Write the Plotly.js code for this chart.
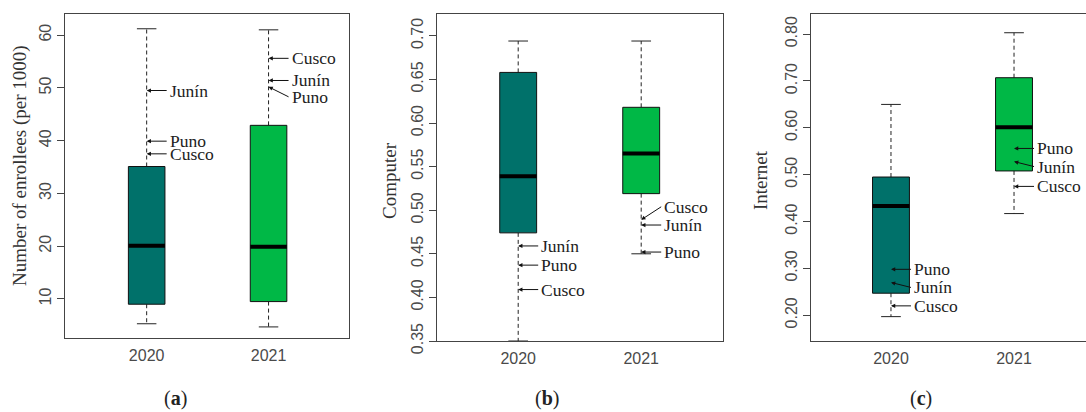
<!DOCTYPE html>
<html>
<head>
<meta charset="utf-8">
<script src="https://cdn.plot.ly/plotly-3.0.1.min.js"></script>
<style>html,body{margin:0;padding:0;background:#fff}#chart{width:1086px;height:412px}</style>
</head>
<body>
<div id="chart"></div>
<script>
// ---------- data ----------
const years = ['2020', '2021'];
const yearPos = [1, 2];

// (a) Number of enrollees (per 1000)
const enrolLower  = [5.3, 4.7];
const enrolQ1     = [9.0, 9.5];
const enrolMedian = [20.1, 19.9];
const enrolQ3     = [35.1, 42.9];
const enrolUpper  = [61.2, 61.0];
const enrolRegions2020 = ['Junín', 'Puno', 'Cusco'];
const enrolValues2020  = [49.5, 39.9, 37.5];
const enrolRegions2021 = ['Cusco', 'Junín', 'Puno'];
const enrolValues2021  = [55.6, 51.4, 50.2];

// (b) Computer
const compLower  = [0.350, 0.450];
const compQ1     = [0.474, 0.519];
const compMedian = [0.539, 0.565];
const compQ3     = [0.658, 0.618];
const compUpper  = [0.694, 0.694];
const compRegions2020 = ['Junín', 'Puno', 'Cusco'];
const compValues2020  = [0.459, 0.437, 0.409];
const compRegions2021 = ['Cusco', 'Junín', 'Puno'];
const compValues2021  = [0.489, 0.483, 0.452];

// (c) Internet
const netLower  = [0.197, 0.417];
const netQ1     = [0.247, 0.508];
const netMedian = [0.433, 0.601];
const netQ3     = [0.495, 0.707];
const netUpper  = [0.650, 0.803];
const netRegions2020 = ['Puno', 'Junín', 'Cusco'];
const netValues2020  = [0.298, 0.270, 0.220];
const netRegions2021 = ['Puno', 'Junín', 'Cusco'];
const netValues2021  = [0.556, 0.528, 0.475];

const yTicksA = [10, 20, 30, 40, 50, 60];
const yTicksB = [0.35, 0.40, 0.45, 0.50, 0.55, 0.60, 0.65, 0.70];
const yTicksC = [0.20, 0.30, 0.40, 0.50, 0.60, 0.70, 0.80];

// ---------- styles ----------
const colors = ['#00716a', '#00b846'];
const BOXW = 0.30, CAPW = 0.08;
const W = 1086, H = 412;
const px = v => v / W;
const py = v => 1 - v / H;

const traces = [];
function addBoxes(xa, ya, lo, q1, med, q3, up) {
  for (let i = 0; i < yearPos.length; i++) {
    const c = yearPos[i];
    traces.push({x: [c, c, null, c, c], y: [q3[i], up[i], null, q1[i], lo[i]],
      xaxis: xa, yaxis: ya, mode: 'lines', line: {color: '#222', width: 1, dash: '4px,3px'},
      hoverinfo: 'skip', showlegend: false});
    traces.push({x: [c - CAPW, c + CAPW, null, c - CAPW, c + CAPW], y: [up[i], up[i], null, lo[i], lo[i]],
      xaxis: xa, yaxis: ya, mode: 'lines', line: {color: '#222', width: 1},
      hoverinfo: 'skip', showlegend: false});
    traces.push({x: [c - BOXW / 2, c + BOXW / 2, c + BOXW / 2, c - BOXW / 2, c - BOXW / 2],
      y: [q1[i], q1[i], q3[i], q3[i], q1[i]], xaxis: xa, yaxis: ya, mode: 'lines',
      fill: 'toself', fillcolor: colors[i], line: {color: '#111', width: 1},
      hoverinfo: 'skip', showlegend: false});
    traces.push({x: [c - BOXW / 2, c + BOXW / 2], y: [med[i], med[i]],
      xaxis: xa, yaxis: ya, mode: 'lines', line: {color: '#000', width: 4},
      hoverinfo: 'skip', showlegend: false});
  }
}
addBoxes('x', 'y', enrolLower, enrolQ1, enrolMedian, enrolQ3, enrolUpper);
addBoxes('x2', 'y2', compLower, compQ1, compMedian, compQ3, compUpper);
addBoxes('x3', 'y3', netLower, netQ1, netMedian, netQ3, netUpper);

const serif = 'Liberation Serif, Times New Roman, serif';
const sans = 'Liberation Sans, Arial, sans-serif';
const annotations = [];
function addLabels(xr, yr, xpos, names, vals, offsets) {
  names.forEach((n, k) => {
    annotations.push({xref: xr, yref: yr, x: xpos, y: vals[k], text: n,
      showarrow: true, ax: 20, ay: offsets[k], axref: 'pixel', ayref: 'pixel',
      xanchor: 'left', yanchor: 'middle', arrowhead: 2, arrowsize: 0.85, arrowwidth: 1,
      arrowcolor: '#111', standoff: 0, borderpad: 2,
      font: {family: serif, size: 17.5, color: '#222'}});
  });
}
addLabels('x', 'y', 1, enrolRegions2020, enrolValues2020, [0, 0, 0]);
addLabels('x', 'y', 2, enrolRegions2021, enrolValues2021, [0, 0, 10]);
addLabels('x2', 'y2', 1, compRegions2020, compValues2020, [0, 0, 0]);
addLabels('x2', 'y2', 2, compRegions2021, compValues2021, [-13, 0, 0]);
addLabels('x3', 'y3', 1, netRegions2020, netValues2020, [0, 5, 0]);
addLabels('x3', 'y3', 2, netRegions2021, netValues2021, [0, 5, 0]);

const titles = [
  {t: 'Number of enrollees (per 1000)', x: 20, y: 166},
  {t: 'Computer', x: 389, y: 180},
  {t: 'Internet', x: 760, y: 180}
];
titles.forEach(o => annotations.push({xref: 'paper', yref: 'paper', x: px(o.x), y: py(o.y),
  text: o.t, textangle: -90, showarrow: false, xanchor: 'center', yanchor: 'middle',
  font: {family: serif, size: 19, color: '#333'}}));
[['a', 175], ['b', 547], ['c', 921]].forEach(p => annotations.push({xref: 'paper', yref: 'paper',
  x: px(p[1]), y: py(398), text: '(<b>' + p[0] + '</b>)', showarrow: false,
  xanchor: 'center', yanchor: 'middle', font: {family: serif, size: 20, color: '#222'}}));

const xBase = {tickvals: yearPos, ticktext: years, showline: true, linecolor: '#444', linewidth: 1,
  mirror: true, ticks: '', showgrid: false, zeroline: false, fixedrange: true, ticklabelstandoff: 3,
  tickfont: {family: sans, size: 16, color: '#4a4a4a'}};
const yBase = {showline: true, linecolor: '#444', linewidth: 1, mirror: true, ticks: 'outside',
  ticklen: 7, tickcolor: '#444', tickangle: -90, showgrid: false, zeroline: false,
  tickfont: {family: sans, size: 16, color: '#4a4a4a'}};

const layout = {
  width: W, height: H, margin: {l: 0, r: 0, t: 0, b: 0},
  paper_bgcolor: '#fff', plot_bgcolor: '#fff', showlegend: false,
  xaxis:  Object.assign({}, xBase, {domain: [px(65), px(349)], range: [0.33, 2.66], anchor: 'y'}),
  yaxis:  Object.assign({}, yBase, {domain: [py(338), py(14)], range: [2.6, 64.0], tickvals: yTicksA, anchor: 'x'}),
  xaxis2: Object.assign({}, xBase, {domain: [px(437), px(723)], range: [0.34, 2.665], anchor: 'y2'}),
  yaxis2: Object.assign({}, yBase, {domain: [py(341), py(14)], range: [0.35, 0.725], tickvals: yTicksB, tickformat: '.2f', anchor: 'x2'}),
  xaxis3: Object.assign({}, xBase, {domain: [px(811), 1], range: [0.35, 2.585], anchor: 'y3'}),
  yaxis3: Object.assign({}, yBase, {domain: [py(341), py(14)], range: [0.145, 0.843], tickvals: yTicksC, tickformat: '.2f', anchor: 'x3', mirror: false}),
  annotations: annotations
};

Plotly.newPlot('chart', traces, layout, {staticPlot: true, displayModeBar: false});
</script>
</body>
</html>
